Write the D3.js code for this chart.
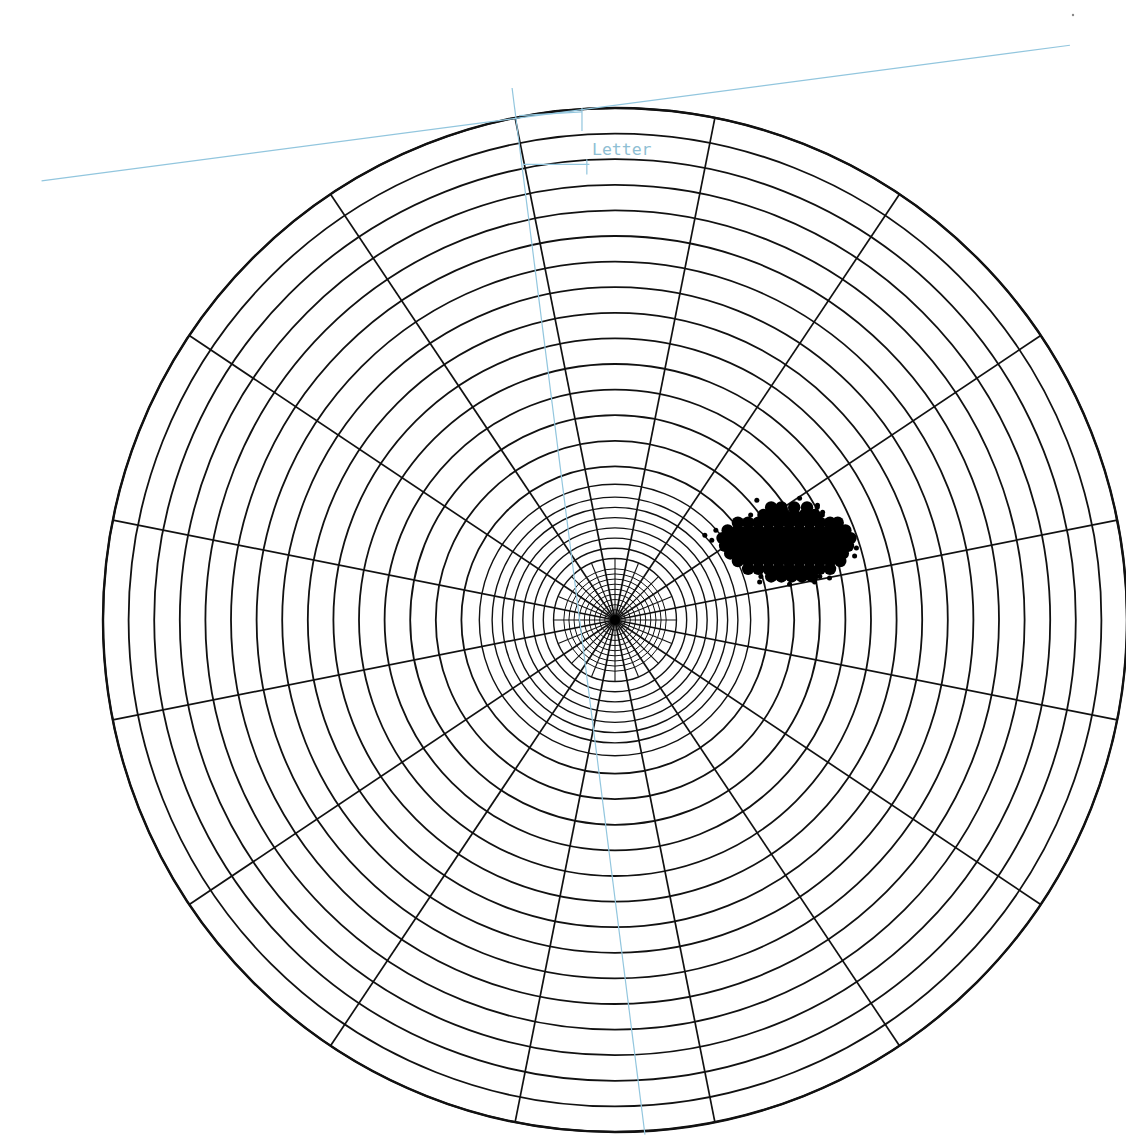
<!DOCTYPE html>
<html>
<head>
<meta charset="utf-8">
<script src="https://cdn.jsdelivr.net/npm/d3@7/dist/d3.min.js"></script>
<style>
  body { margin: 0; background: #fff; }
  svg { display: block; }
</style>
</head>
<body>
<div id="chart"></div>
<script>
const width = 1126, height = 1135;
const cx = 615, cy = 620, outerR = 512;

// ring radii (chart units, outer edge = 20)
const ringsOuter = [6, 7, 8, 9, 10, 11, 12, 13, 14, 15, 16, 17, 18, 19, 20];
const ringsMid = [2.4, 2.8, 3.2, 3.6, 4.0, 4.4, 4.8, 5.3];
const ringsInner = [0.2, 0.4, 0.6, 0.8, 1.0, 1.2, 1.4, 1.6, 1.8, 2.0];

// spoke azimuths (degrees clockwise from north)
const spokes = [11.25, 33.75, 56.25, 78.75, 101.25, 123.75, 146.25, 168.75,
  191.25, 213.75, 236.25, 258.75, 281.25, 303.75, 326.25, 348.75];
const spokesInner = [0, 22.5, 45, 67.5, 90, 112.5, 135, 157.5,
  180, 202.5, 225, 247.5, 270, 292.5, 315, 337.5];
const spokesInnerLen = 2.4;

// scatter cluster, read row by row (y in chart units, x values along the row)
const clusterRows = [
  {y: 4.4, x: [6.1, 6.5, 7.0, 7.5]},
  {y: 4.1, x: [5.8, 6.2, 6.6, 7.0, 7.4, 7.8]},
  {y: 3.8, x: [4.8, 5.2, 5.6, 6.0, 6.4, 6.8, 7.2, 7.6, 8.0, 8.4, 8.7]},
  {y: 3.5, x: [4.4, 4.8, 5.2, 5.6, 6.0, 6.4, 6.8, 7.2, 7.6, 8.0, 8.4, 8.8, 9.0]},
  {y: 3.2, x: [4.2, 4.6, 5.0, 5.4, 5.8, 6.2, 6.6, 7.0, 7.4, 7.8, 8.2, 8.6, 9.0, 9.2]},
  {y: 2.9, x: [4.3, 4.7, 5.1, 5.5, 5.9, 6.3, 6.7, 7.1, 7.5, 7.9, 8.3, 8.7, 9.1]},
  {y: 2.6, x: [4.5, 4.9, 5.3, 5.7, 6.1, 6.5, 6.9, 7.3, 7.7, 8.1, 8.5, 8.9]},
  {y: 2.3, x: [4.8, 5.2, 5.6, 6.0, 6.4, 6.8, 7.2, 7.6, 8.0, 8.4, 8.8]},
  {y: 2.0, x: [5.2, 5.6, 6.0, 6.4, 6.8, 7.2, 7.6, 8.0, 8.4]},
  {y: 1.7, x: [6.1, 6.5, 6.9, 7.3, 7.7]}
];
// stray points round the cluster
const clusterFringe = [
  [3.51, 3.31], [3.78, 3.12], [3.94, 3.51], [5.54, 4.68], [7.21, 4.76],
  [7.91, 4.48], [8.11, 4.21], [5.3, 4.1], [8.1, 4.1], [7.9, 4.4],
  [9.43, 2.81], [9.36, 2.5], [5.65, 1.48], [6.82, 1.40], [7.80, 1.48],
  [8.38, 1.64], [5.7, 1.7], [8.0, 1.7]
];

// blue guide lines [x1, y1, x2, y2] in chart units
const guides = [
  [-22.4, 17.15, 17.77, 22.45],
  [-4.02, 20.78, 1.17, -20.1],
  [-3.75, 19.7, -1.29, 19.85],
  [-1.29, 20.0, -1.29, 19.1],
  [-1.1, 18.0, -1.1, 17.4],
  [-3.60, 17.8, -1.0, 17.8]
];
const guideLabel = {text: "Letter", x: -0.9, y: 18.15};

const r = d3.scaleLinear().domain([0, 20]).range([0, outerR]);
const x = d3.scaleLinear().domain([-20, 20]).range([cx - outerR, cx + outerR]);
const y = d3.scaleLinear().domain([-20, 20]).range([cy + outerR, cy - outerR]);

const svg = d3.select("#chart").append("svg")
  .attr("width", width)
  .attr("height", height);

const grid = svg.append("g").attr("transform", "translate(" + cx + "," + cy + ")");

function drawRings(list, sw) {
  grid.append("g").selectAll("circle")
    .data(list)
    .enter().append("circle")
      .attr("r", d => r(d))
      .attr("fill", "none")
      .attr("stroke", "#111")
      .attr("stroke-width", sw);
}
drawRings(ringsInner, 1.0);
drawRings(ringsMid, 1.4);
drawRings(ringsOuter, 1.8);

grid.append("circle")
  .attr("r", r(20))
  .attr("fill", "none")
  .attr("stroke", "#111")
  .attr("stroke-width", 2.4);

const rad = a => a * Math.PI / 180;

grid.append("g").selectAll("line")
  .data(spokes)
  .enter().append("line")
    .attr("x1", 0).attr("y1", 0)
    .attr("x2", d => r(20) * Math.sin(rad(d)))
    .attr("y2", d => -r(20) * Math.cos(rad(d)))
    .attr("stroke", "#111")
    .attr("stroke-width", 1.7);

grid.append("g").selectAll("line")
  .data(spokesInner)
  .enter().append("line")
    .attr("x1", 0).attr("y1", 0)
    .attr("x2", d => r(spokesInnerLen) * Math.sin(rad(d)))
    .attr("y2", d => -r(spokesInnerLen) * Math.cos(rad(d)))
    .attr("stroke", "#111")
    .attr("stroke-width", 1.1);

grid.append("circle").attr("r", 5).attr("fill", "#000");

// blue guides
svg.append("g").selectAll("line")
  .data(guides)
  .enter().append("line")
    .attr("x1", d => x(d[0])).attr("y1", d => y(d[1]))
    .attr("x2", d => x(d[2])).attr("y2", d => y(d[3]))
    .attr("stroke", "#92c6de")
    .attr("stroke-width", 1.2);

svg.append("text")
  .attr("x", x(guideLabel.x))
  .attr("y", y(guideLabel.y))
  .attr("font-family", "DejaVu Sans Mono, monospace")
  .attr("font-size", 16.5)
  .attr("fill", "#8fbfd4")
  .text(guideLabel.text);

// scatter cluster
const clusterPts = clusterRows.flatMap(row => row.x.map(v => [v, row.y]));

svg.append("g").selectAll("circle.pt")
  .data(clusterPts)
  .enter().append("circle")
    .attr("class", "pt")
    .attr("cx", d => x(d[0]))
    .attr("cy", d => y(d[1]))
    .attr("r", 6.2)
    .attr("fill", "#000");

svg.append("g").selectAll("circle.fr")
  .data(clusterFringe)
  .enter().append("circle")
    .attr("class", "fr")
    .attr("cx", d => x(d[0]))
    .attr("cy", d => y(d[1]))
    .attr("r", 2.5)
    .attr("fill", "#000");

svg.append("circle").attr("cx", 1073).attr("cy", 15).attr("r", 1.2).attr("fill", "#888");
</script>
</body>
</html>
